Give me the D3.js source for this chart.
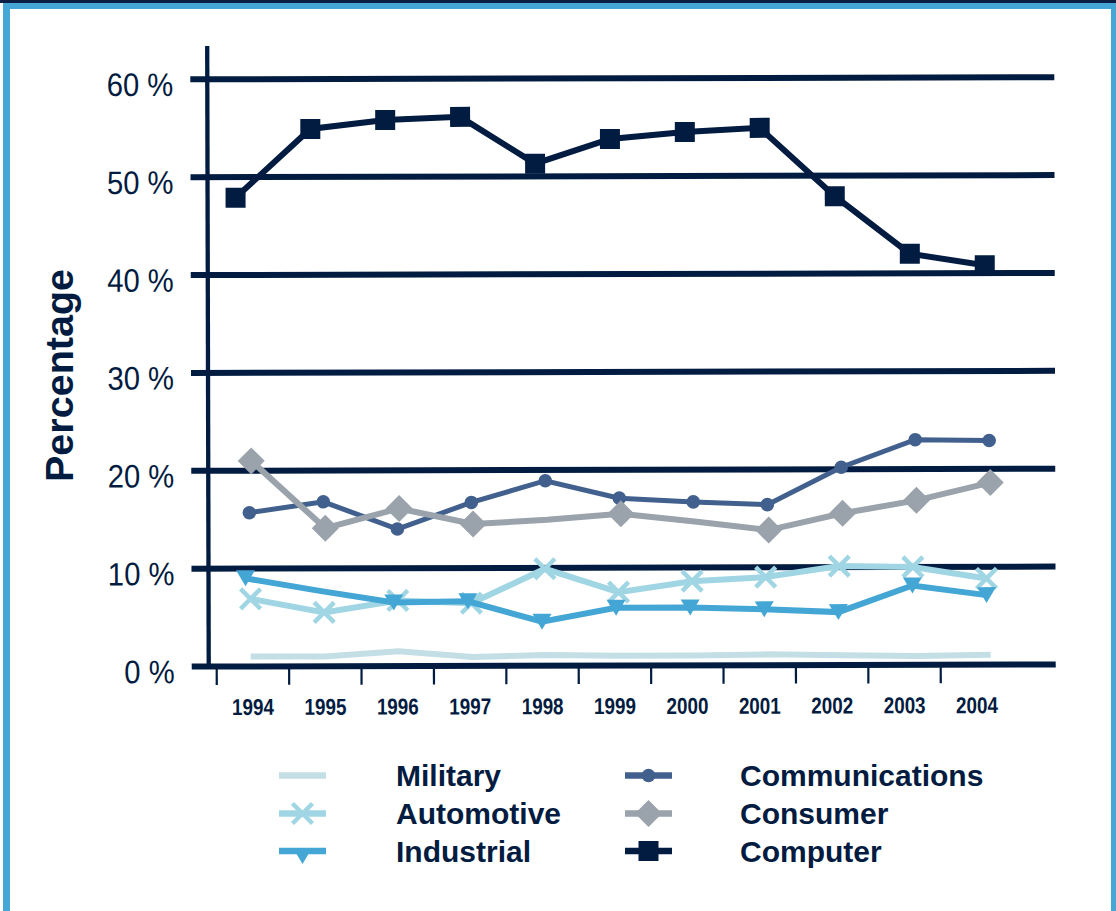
<!DOCTYPE html>
<html>
<head>
<meta charset="utf-8">
<script src="https://cdn.jsdelivr.net/npm/d3@7"></script>
<style>
  html, body { margin: 0; padding: 0; background: #ffffff; }
  svg { display: block; }
</style>
</head>
<body>
<svg id="chart" width="1116" height="911"></svg>
<script>
// ---------- data ----------
const years = [1994, 1995, 1996, 1997, 1998, 1999, 2000, 2001, 2002, 2003, 2004];
const yTicks = [0, 10, 20, 30, 40, 50, 60];
const yTickLabels = ["0 %", "10 %", "20 %", "30 %", "40 %", "50 %", "60 %"];
const yTitle = "Percentage";

const military       = [1.0, 1.0, 1.5, 0.9, 1.1, 1.0, 1.0, 1.1, 1.0, 0.9, 1.0];
const automotive     = [6.9, 5.5, 6.7, 6.4, 9.9, 7.5, 8.6, 9.0, 10.1, 10.0, 8.8];
const industrial     = [9.0, 7.7, 6.5, 6.6, 4.5, 5.9, 5.9, 5.7, 5.4, 8.1, 7.1];
const communications = [15.7, 16.8, 14.0, 16.7, 18.9, 17.1, 16.7, 16.4, 20.2, 23.0, 22.9];
const consumer       = [21.0, 14.1, 16.1, 14.5, 14.9, 15.5, 14.7, 13.8, 15.5, 16.8, 18.6];
const computer       = [47.9, 54.9, 55.8, 56.1, 51.3, 53.8, 54.5, 54.9, 47.9, 42.0, 40.8];

// years without a drawn marker
const industrialNoMarker = [1995];
const consumerNoMarker = [1998, 2000];

// ---------- styles ----------
const NAVY = "#021b40";
const colors = {
  Military: "#c4dee5",
  Automotive: "#a0d6e3",
  Industrial: "#44a6d5",
  Communications: "#42608e",
  Consumer: "#9aa2ab",
  Computer: "#021b40"
};
const widths = { Military: 6, Automotive: 6, Industrial: 6, Communications: 5, Consumer: 6, Computer: 6 };
const markers = { Military: "none", Automotive: "x", Industrial: "tri", Communications: "circle", Consumer: "diamond", Computer: "square" };
const xRanges = {
  Military: [250, 990], Automotive: [250, 986], Industrial: [245, 986],
  Communications: [249, 989], Consumer: [251, 990], Computer: [236, 985]
};

const series = [
  { name: "Military", values: military, skip: [] },
  { name: "Automotive", values: automotive, skip: [] },
  { name: "Industrial", values: industrial, skip: industrialNoMarker },
  { name: "Communications", values: communications, skip: [] },
  { name: "Consumer", values: consumer, skip: consumerNoMarker },
  { name: "Computer", values: computer, skip: [] }
];

const svg = d3.select("#chart");

// ---------- frame ----------
svg.append("rect").attr("x", 0).attr("y", 0).attr("width", 1116).attr("height", 911).attr("fill", "#ffffff");
svg.append("rect").attr("x", 3).attr("y", 3).attr("width", 1113).attr("height", 6).attr("fill", "#45a7d6");
svg.append("rect").attr("x", 3).attr("y", 3).attr("width", 7).attr("height", 908).attr("fill", "#45a7d6");
svg.append("rect").attr("x", 1111).attr("y", 3).attr("width", 5).attr("height", 908).attr("fill", "#45a7d6");
svg.append("rect").attr("x", 0).attr("y", 0).attr("width", 1116).attr("height", 3).attr("fill", "#0b1f45");

// ---------- scales ----------
const y = d3.scaleLinear().domain([0, 60]).range([665.5, 78.3]);
const xBand = d3.scaleBand().domain(years).range([216, 216 + 72.4 * years.length]).padding(0);

const plot = svg.append("g").attr("transform", "rotate(-0.14, 620, 370)");

// gridlines
plot.append("g").selectAll("line").data(yTicks).join("line")
  .attr("x1", 191).attr("x2", 1055)
  .attr("y1", d => y(d)).attr("y2", d => y(d))
  .attr("stroke", NAVY).attr("stroke-width", 6);

// y axis line
plot.append("line").attr("x1", 208).attr("x2", 208)
  .attr("y1", 45).attr("y2", y(0) + 2)
  .attr("stroke", NAVY).attr("stroke-width", 4.3);

// x ticks
plot.append("g").selectAll("line").data(years).join("line")
  .attr("x1", d => xBand(d)).attr("x2", d => xBand(d))
  .attr("y1", y(0) + 2).attr("y2", 684)
  .attr("stroke", NAVY).attr("stroke-width", 2.2);

// x labels
plot.append("g").selectAll("text").data(years).join("text")
  .attr("transform", d => `translate(${xBand(d) + xBand.bandwidth() / 2},714) scale(0.82,1)`)
  .attr("text-anchor", "middle")
  .attr("font-family", "Arial, 'Liberation Sans', sans-serif")
  .attr("font-weight", "bold").attr("font-size", 23)
  .attr("fill", NAVY)
  .text(d => d);

// y labels
plot.append("g").selectAll("text").data(yTicks).join("text")
  .attr("transform", d => `translate(174,${y(d) + 16.5}) scale(0.9,1)`)
  .attr("text-anchor", "end")
  .attr("font-family", "Arial, 'Liberation Sans', sans-serif")
  .attr("font-size", 32.5)
  .attr("fill", NAVY)
  .text((d, i) => yTickLabels[i]);

// y title
svg.append("text")
  .attr("transform", "translate(73,375.5) rotate(-90)")
  .attr("text-anchor", "middle")
  .attr("font-family", "Arial, 'Liberation Sans', sans-serif")
  .attr("font-weight", "bold").attr("font-size", 39.5)
  .attr("fill", NAVY)
  .text(yTitle);

// ---------- marker drawing ----------
function drawMarker(g, type, cx, cy, color) {
  if (type === "square") {
    g.append("rect").attr("x", cx - 10).attr("y", cy - 10).attr("width", 20).attr("height", 20).attr("fill", color);
  } else if (type === "circle") {
    g.append("circle").attr("cx", cx).attr("cy", cy).attr("r", 6.8).attr("fill", color);
  } else if (type === "diamond") {
    const h = 13.5;
    g.append("path").attr("d", `M${cx},${cy - h}L${cx + h},${cy}L${cx},${cy + h}L${cx - h},${cy}Z`).attr("fill", color);
  } else if (type === "tri") {
    g.append("path").attr("d", `M${cx - 9.5},${cy - 8}L${cx + 9.5},${cy - 8}L${cx},${cy + 8}Z`).attr("fill", color);
  } else if (type === "x") {
    const a = 10;
    g.append("path").attr("d", `M${cx - a},${cy - a}L${cx + a},${cy + a}M${cx - a},${cy + a}L${cx + a},${cy - a}`)
      .attr("stroke", color).attr("stroke-width", 4.5).attr("fill", "none");
  }
}

// ---------- series ----------
series.forEach(s => {
  const xs = d3.scalePoint().domain(years).range(xRanges[s.name]);
  const line = d3.line().x((d, i) => xs(years[i])).y(d => y(d));
  const g = plot.append("g");
  g.append("path").datum(s.values).attr("d", line)
    .attr("fill", "none").attr("stroke", colors[s.name])
    .attr("stroke-width", widths[s.name]).attr("stroke-linejoin", "miter");
  if (markers[s.name] !== "none") {
    s.values.forEach((v, i) => {
      if (s.skip.includes(years[i])) return;
      drawMarker(g, markers[s.name], xs(years[i]), y(v), colors[s.name]);
    });
  }
});

// ---------- legend ----------
const legendCols = [
  { symX: 279, textX: 396, names: ["Military", "Automotive", "Industrial"] },
  { symX: 625, textX: 740, names: ["Communications", "Consumer", "Computer"] }
];
const legendRows = [775.5, 813.5, 851];
const legend = svg.append("g");
legendCols.forEach(col => {
  col.names.forEach((name, r) => {
    const cy = legendRows[r];
    const g = legend.append("g");
    g.append("line").attr("x1", col.symX).attr("x2", col.symX + 47)
      .attr("y1", cy).attr("y2", cy)
      .attr("stroke", colors[name]).attr("stroke-width", 6.5);
    const m = markers[name];
    const mx = col.symX + 23.5;
    if (m === "tri") drawMarker(g, m, mx, cy + 5, colors[name]);
    else if (m !== "none") drawMarker(g, m, mx, cy, colors[name]);
    g.append("text").attr("x", col.textX).attr("y", cy + 10.5)
      .attr("font-family", "Arial, 'Liberation Sans', sans-serif")
      .attr("font-weight", "bold").attr("font-size", 30)
      .attr("fill", NAVY)
      .text(name);
  });
});
</script>
</body>
</html>
